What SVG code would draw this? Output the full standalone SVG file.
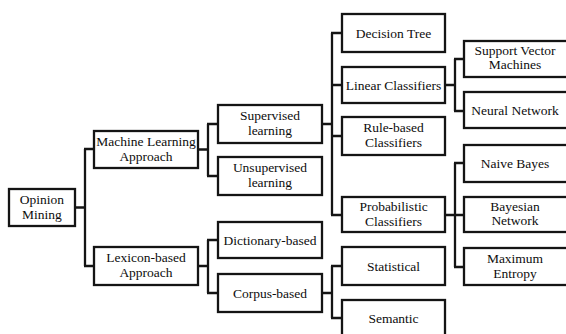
<svg xmlns="http://www.w3.org/2000/svg" width="566" height="334" viewBox="0 0 566 334">
<style>
.b{fill:#fff;stroke:#141414;stroke-width:2.3}
.t{font-family:'Liberation Serif','Times New Roman',serif;font-size:13.5px;fill:#0d0d0d;text-anchor:middle}
.c{fill:none;stroke:#141414;stroke-width:2.3}
</style>
<rect width="566" height="334" fill="#fff"/>
<g id="connectors">
<path class="c" d="M75,207.5H85M85,149V266M84,149H94M84,266H94"/>
<path class="c" d="M198,149.5H208M208,124V176M207,124H218M207,176H218"/>
<path class="c" d="M198,266H208M208,240V293M207,240H218M207,293H218"/>
<path class="c" d="M322,124H332M332,33V215M331,33H342M331,85H342M331,136H342M331,215H342"/>
<path class="c" d="M322,293H332M332,266V318M331,266H342M331,318H342"/>
<path class="c" d="M445,85H455M455,59V111M454,59H464M454,111H464"/>
<path class="c" d="M445,215H455M455,163V267M454,163H464M454,215H464M454,267H464"/>
</g>
<g id="opinion-mining"><rect class="b" x="9" y="189" width="66" height="37"/><text class="t" x="42" y="204">Opinion</text><text class="t" x="42" y="219">Mining</text></g>
<g id="ml"><rect class="b" x="94" y="131" width="104" height="37"/><text class="t" x="146" y="146">Machine Learning</text><text class="t" x="146" y="161">Approach</text></g>
<g id="lex"><rect class="b" x="94" y="247" width="104" height="38"/><text class="t" x="146" y="262">Lexicon-based</text><text class="t" x="146" y="277">Approach</text></g>
<g id="supervised"><rect class="b" x="218" y="105" width="104" height="38"/><text class="t" x="270" y="120">Supervised</text><text class="t" x="270" y="135">learning</text></g>
<g id="unsupervised"><rect class="b" x="218" y="157" width="104" height="38"/><text class="t" x="270" y="172">Unsupervised</text><text class="t" x="270" y="187">learning</text></g>
<g id="dictionary"><rect class="b" x="218" y="222" width="104" height="36"/><text class="t" x="270" y="244.5">Dictionary-based</text></g>
<g id="corpus"><rect class="b" x="218" y="274" width="104" height="38"/><text class="t" x="270" y="297.5">Corpus-based</text></g>
<g id="decision-tree"><rect class="b" x="342" y="14" width="103" height="38"/><text class="t" x="393.5" y="37.5">Decision Tree</text></g>
<g id="linear"><rect class="b" x="342" y="67" width="103" height="36"/><text class="t" x="393.5" y="89.5">Linear Classifiers</text></g>
<g id="rule"><rect class="b" x="342" y="117" width="103" height="38"/><text class="t" x="393.5" y="132">Rule-based</text><text class="t" x="393.5" y="147">Classifiers</text></g>
<g id="probabilistic"><rect class="b" x="342" y="197" width="103" height="35"/><text class="t" x="393.5" y="211">Probabilistic</text><text class="t" x="393.5" y="226">Classifiers</text></g>
<g id="statistical"><rect class="b" x="342" y="247" width="103" height="38"/><text class="t" x="393.5" y="270.5">Statistical</text></g>
<g id="semantic"><rect class="b" x="342" y="300" width="103" height="40"/><text class="t" x="393.5" y="322.5">Semantic</text></g>
<g id="svm"><rect class="b" x="464" y="41" width="104" height="36"/><text class="t" x="515" y="55">Support Vector</text><text class="t" x="515" y="69">Machines</text></g>
<g id="neural"><rect class="b" x="464" y="92" width="104" height="36"/><text class="t" x="515" y="114.5">Neural Network</text></g>
<g id="naive"><rect class="b" x="464" y="145" width="104" height="37"/><text class="t" x="515" y="168">Naive Bayes</text></g>
<g id="bayesian"><rect class="b" x="464" y="197" width="104" height="35"/><text class="t" x="515" y="211">Bayesian</text><text class="t" x="515" y="225">Network</text></g>
<g id="maxent"><rect class="b" x="464" y="248" width="104" height="37"/><text class="t" x="515" y="263">Maximum</text><text class="t" x="515" y="278">Entropy</text></g>
</svg>
